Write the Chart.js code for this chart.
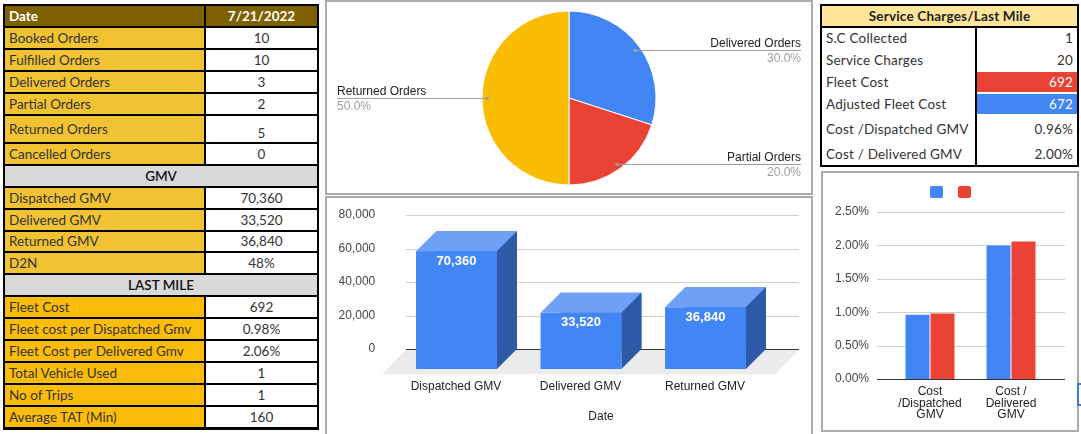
<!DOCTYPE html>
<html><head><meta charset="utf-8">
<script src="https://cdn.jsdelivr.net/npm/chart.js@4.4.0/dist/chart.umd.min.js"></script>
<style>
html,body{margin:0;padding:0;background:#fff;width:1081px;height:434px;overflow:hidden;position:relative;font-family:Lato,"Open Sans",sans-serif;}
.cell{position:absolute;box-sizing:border-box;font-size:13.5px;color:#333;white-space:nowrap;overflow:hidden;}
#rightTable .cell{letter-spacing:0.2px;}
.panel{position:absolute;box-sizing:border-box;border:2px solid #ababab;}
canvas{position:absolute;}
</style></head><body>
<div id="leftTable"></div>
<div id="rightTable"></div>
<div class="panel" style="left:325px;top:0;width:488px;height:195px"></div>
<div class="panel" style="left:325px;top:196px;width:488px;height:240px"></div>
<div class="panel" style="left:821px;top:171px;width:258px;height:261px"></div>
<div style="position:absolute;left:1077px;top:383px;width:5px;height:23px;box-sizing:border-box;border:2px solid #3c78d8;border-right:none"></div>
<canvas id="pie" width="484" height="191" style="left:327px;top:2px"></canvas>
<canvas id="gmv" width="484" height="236" style="left:327px;top:198px"></canvas>
<canvas id="cost" width="252" height="256" style="left:824px;top:174px"></canvas>
<script>
// ---------------- DATA ----------------
const reportDate = '7/21/2022';
const orderLabels = ['Booked Orders','Fulfilled Orders','Delivered Orders','Partial Orders','Returned Orders','Cancelled Orders'];
const orderValues = ['10','10','3','2','5','0'];
const gmvLabels = ['Dispatched GMV','Delivered GMV','Returned GMV','D2N'];
const gmvValues = ['70,360','33,520','36,840','48%'];
const lastMileLabels = ['Fleet Cost','Fleet cost per Dispatched Gmv','Fleet Cost per Delivered Gmv','Total Vehicle Used','No of Trips','Average TAT (Min)'];
const lastMileValues = ['692','0.98%','2.06%','1','1','160'];

const scLabels = ['S.C Collected','Service Charges','Fleet Cost','Adjusted Fleet Cost','Cost /Dispatched GMV','Cost / Delivered GMV'];
const scValues = ['1','20','692','672','0.96%','2.00%'];

const pieLabels = ['Delivered Orders','Partial Orders','Returned Orders'];
const pieValues = [3, 2, 5];

const gmvCategories = ['Dispatched GMV','Delivered GMV','Returned GMV'];
const gmvAmounts = [70360, 33520, 36840];
const gmvTicks = [0, 20000, 40000, 60000, 80000];

const costCategories = [['Cost','/Dispatched','GMV'],['Cost /','Delivered','GMV']];
const adjustedCostPct = [0.96, 2.00];
const fleetCostPct = [0.98, 2.06];
const costTicks = [0, 0.5, 1.0, 1.5, 2.0, 2.5];

// ---------------- TABLES ----------------
const FONT_CHART = "'Liberation Sans', Arial, sans-serif";
function mk(parent, style, text, cls){
  const d=document.createElement('div'); d.className=cls||'cell';
  Object.assign(d.style, style); if(text!==undefined) d.textContent=text; parent.appendChild(d); return d;
}
(function leftTable(){
  const root=document.getElementById('leftTable');
  const rows=[{t:'head',l:'Date',v:reportDate}];
  orderLabels.forEach((l,i)=>rows.push({t:'a',l,v:orderValues[i]}));
  rows.push({t:'sec',l:'GMV'});
  gmvLabels.forEach((l,i)=>rows.push({t:'a',l,v:gmvValues[i]}));
  rows.push({t:'sec',l:'LAST MILE'});
  lastMileLabels.forEach((l,i)=>rows.push({t:'b',l,v:lastMileValues[i]}));
  const lines=[5,27,49,71,93,115,143,165,187,209,231,252,274,296,318,340,362,384,406,428];
  mk(root,{left:'3px',top:'4px',width:'316px',height:'426px',background:'#000'});
  rows.forEach((r,i)=>{
    const top=lines[i]+1, h=lines[i+1]-lines[i]-2;
    if(r.t==='sec'){
      mk(root,{left:'5px',top:top+'px',width:'312px',height:h+'px',lineHeight:h+'px',background:'#d9d9d9',textAlign:'center',color:'#111',fontWeight:'600'},r.l);
      return;
    }
    const bg = r.t==='head'?'#7f6000':(r.t==='a'?'#f1c232':'#fcbc0a');
    const col = r.t==='head'?'#fff':'#333';
    const fw = r.t==='head'?'bold':'normal';
    mk(root,{left:'5px',top:top+'px',width:'199px',height:h+'px',lineHeight:h+'px',background:bg,color:col,fontWeight:fw,paddingLeft:'4px'},r.l);
    const shift = r.l==='Returned Orders'?4:0;
    mk(root,{left:'206px',top:top+'px',width:'111px',height:h+'px',lineHeight:(h+shift*2)+'px',background:r.t==='head'?bg:'#fff',color:col,fontWeight:fw,textAlign:'center'},r.v);
  });
})();
(function rightTable(){
  const root=document.getElementById('rightTable');
  mk(root,{left:'820px',top:'4px',width:'259px',height:'163px',background:'#000'});
  mk(root,{left:'822px',top:'6px',width:'255px',height:'20px',lineHeight:'20px',background:'#ffe599',textAlign:'center',fontWeight:'bold',color:'#222'},'Service Charges/Last Mile');
  const lines=[28,49,71,93,115,143,165];
  mk(root,{left:'822px',top:'28px',width:'153px',height:'137px',background:'#fff'});
  mk(root,{left:'977px',top:'28px',width:'100px',height:'137px',background:'#fff'});
  scLabels.forEach((l,i)=>{
    const top=lines[i], h=lines[i+1]-lines[i];
    mk(root,{left:'822px',top:top+'px',width:'153px',height:h+'px',lineHeight:h+'px',paddingLeft:'4px'},l);
    let bg='#fff', col='#333';
    if(l==='Fleet Cost'){bg='#e84335';col='#fff';}
    if(l==='Adjusted Fleet Cost'){bg='#4285f4';col='#fff';}
    mk(root,{left:'977px',top:(top+1)+'px',width:'100px',height:(h-2)+'px',lineHeight:(h-2)+'px',background:bg,color:col,textAlign:'right',paddingRight:'4px'},scValues[i]);
  });
})();

// ---------------- PIE ----------------
const pieLabelPlugin={id:'pieLabels',afterDatasetsDraw(chart){
  const ctx=chart.ctx, meta=chart.getDatasetMeta(0);
  const total=pieValues.reduce((a,b)=>a+b,0);
  ctx.save();
  meta.data.forEach((arc,i)=>{
    const p=arc.getProps(['x','y','startAngle','endAngle','outerRadius'],true);
    const mid=(p.startAngle+p.endAngle)/2;
    const px=p.x+Math.cos(mid)*p.outerRadius*0.94, py=Math.round(p.y+Math.sin(mid)*p.outerRadius*0.94)+0.5;
    const right=Math.cos(mid)>=0;
    const ex= right? chart.width-10 : 10;
    ctx.strokeStyle='#9e9e9e'; ctx.lineWidth=1;
    ctx.beginPath(); ctx.moveTo(px,py); ctx.lineTo(ex,py); ctx.stroke();
    ctx.fillStyle='#9e9e9e'; ctx.beginPath(); ctx.arc(px,py,1.8,0,Math.PI*2); ctx.fill();
    ctx.font='12px '+FONT_CHART; ctx.textAlign=right?'right':'left'; ctx.textBaseline='alphabetic';
    ctx.fillStyle='#222'; ctx.fillText(pieLabels[i],ex,py-4);
    ctx.fillStyle='#9e9e9e'; ctx.fillText((pieValues[i]/total*100).toFixed(1)+'%',ex,py+11);
  });
  ctx.restore();
}};
new Chart(document.getElementById('pie'),{
  type:'pie',
  data:{labels:pieLabels,datasets:[{data:pieValues,backgroundColor:['#4285f4','#ea4335','#fbbc04'],borderColor:'#fff',borderWidth:1,radius:87}]},
  options:{responsive:false,animation:false,layout:{padding:{top:9,bottom:8}},
    plugins:{legend:{display:false},tooltip:{enabled:false}}},
  plugins:[pieLabelPlugin]
});

// ---------------- 3D GMV BAR ----------------
const D=20;
const bar3d={id:'bar3d',
  beforeDatasetsDraw(chart){
    const ctx=chart.ctx, ys=chart.scales.y;
    const x0=79, x1=473, z=Math.round(ys.getPixelForValue(0))+0.5;
    ctx.save();
    ctx.fillStyle='#ebebeb'; ctx.beginPath();
    ctx.moveTo(x0,z); ctx.lineTo(x1-1,z); ctx.lineTo(x1-25,z+25); ctx.lineTo(x0-24,z+25); ctx.closePath(); ctx.fill();
    gmvTicks.forEach(v=>{
      const py=Math.round(ys.getPixelForValue(v))+0.5;
      ctx.strokeStyle=v===0?'#333':'#d0d0d0'; ctx.lineWidth=1;
      ctx.beginPath(); ctx.moveTo(x0,py); ctx.lineTo(x1-1,py); ctx.stroke();
    });
    ctx.restore();
  },
  afterDatasetsDraw(chart){
    const ctx=chart.ctx, meta=chart.getDatasetMeta(0);
    ctx.save();
    meta.data.forEach((b,i)=>{
      const p=b.getProps(['x','y','base','width'],true);
      const l=p.x-p.width/2, r=p.x+p.width/2, t=p.y, bs=p.base;
      ctx.fillStyle='#6ea1f5'; ctx.beginPath();
      ctx.moveTo(l,t); ctx.lineTo(r,t); ctx.lineTo(r-D,t+D); ctx.lineTo(l-D,t+D); ctx.closePath(); ctx.fill();
      ctx.fillStyle='#2c5aa6'; ctx.beginPath();
      ctx.moveTo(r,t); ctx.lineTo(r,bs); ctx.lineTo(r-D,bs+D); ctx.lineTo(r-D,t+D); ctx.closePath(); ctx.fill();
      ctx.fillStyle='#4285f4'; ctx.fillRect(l-D,t+D,p.width,bs-t);
      ctx.fillStyle='#fff'; ctx.font='bold 13px '+FONT_CHART; ctx.textAlign='center'; ctx.textBaseline='middle';
      ctx.fillText(gmvAmounts[i].toLocaleString('en-US'),p.x-D,t+D+10);
    });
    ctx.restore();
  }
};
new Chart(document.getElementById('gmv'),{
  type:'bar',
  data:{labels:gmvCategories,datasets:[{data:gmvAmounts,backgroundColor:'#4285f4',categoryPercentage:0.65,barPercentage:1}]},
  options:{responsive:false,animation:false,
    layout:{padding:{left:0,right:23.25,top:17,bottom:7.8}},
    plugins:{legend:{display:false},tooltip:{enabled:false}},
    scales:{
      x:{grid:{display:false,drawTicks:false},border:{display:false},
         afterFit(s){s.height=77.2;},
         ticks:{labelOffset:-20.5,padding:30.5,maxRotation:0,color:'#222',font:{family:FONT_CHART,size:12}},
         title:{display:true,text:'Date',color:'#222',font:{family:FONT_CHART,size:12},padding:{top:0,bottom:2}}},
      y:{min:0,max:80000,grid:{display:false,drawTicks:true,tickLength:39},border:{display:false},
         afterFit(s){s.width=87.25;},
         ticks:{stepSize:20000,padding:0,color:'#444',font:{family:FONT_CHART,size:12},callback:v=>v.toLocaleString('en-US')}}
    }},
  plugins:[bar3d]
});

// ---------------- COST % BAR ----------------
const costDecor={id:'costDecor',
  beforeDatasetsDraw(chart){
    const ctx=chart.ctx, ys=chart.scales.y;
    ctx.save();
    costTicks.forEach(v=>{
      const py=Math.round(ys.getPixelForValue(v))+0.5;
      ctx.strokeStyle=v===0?'#333':'#d0d0d0'; ctx.lineWidth=1;
      ctx.beginPath(); ctx.moveTo(53,py); ctx.lineTo(241,py); ctx.stroke();
    });
    ctx.restore();
  },
  afterDraw(chart){
    const ctx=chart.ctx; const cx=chart.width/2;
    ctx.save();
    chart.data.datasets.forEach((ds,i)=>{
      ctx.fillStyle=ds.backgroundColor;
      ctx.beginPath(); ctx.roundRect(cx-20+i*28,12,13,12,2); ctx.fill();
    });
    ctx.restore();
  }
};
new Chart(document.getElementById('cost'),{
  type:'bar',
  data:{labels:costCategories,datasets:[
    {label:'Adjusted',data:adjustedCostPct,backgroundColor:'#4285f4',categoryPercentage:0.617,barPercentage:0.96},
    {label:'Fleet',data:fleetCostPct,backgroundColor:'#ea4335',categoryPercentage:0.617,barPercentage:0.96}
  ]},
  options:{responsive:false,animation:false,
    layout:{padding:{left:0,right:24.5,top:38,bottom:11.5}},
    plugins:{legend:{display:false},tooltip:{enabled:false}},
    scales:{
      x:{grid:{display:false,drawTicks:false},border:{display:false},
         afterFit(s){s.height=39.5;},
         ticks:{padding:7,maxRotation:0,color:'#222',font:{family:FONT_CHART,size:12,lineHeight:'11.5px'}}},
      y:{min:0,max:2.5,grid:{display:false,drawTicks:true,tickLength:20.5},border:{display:false},
         afterFit(s){s.width=65.5;},
         ticks:{stepSize:0.5,padding:0,color:'#444',font:{family:FONT_CHART,size:12},callback:v=>v.toFixed(2)+'%'}}
    }},
  plugins:[costDecor]
});
</script>
</body></html>
